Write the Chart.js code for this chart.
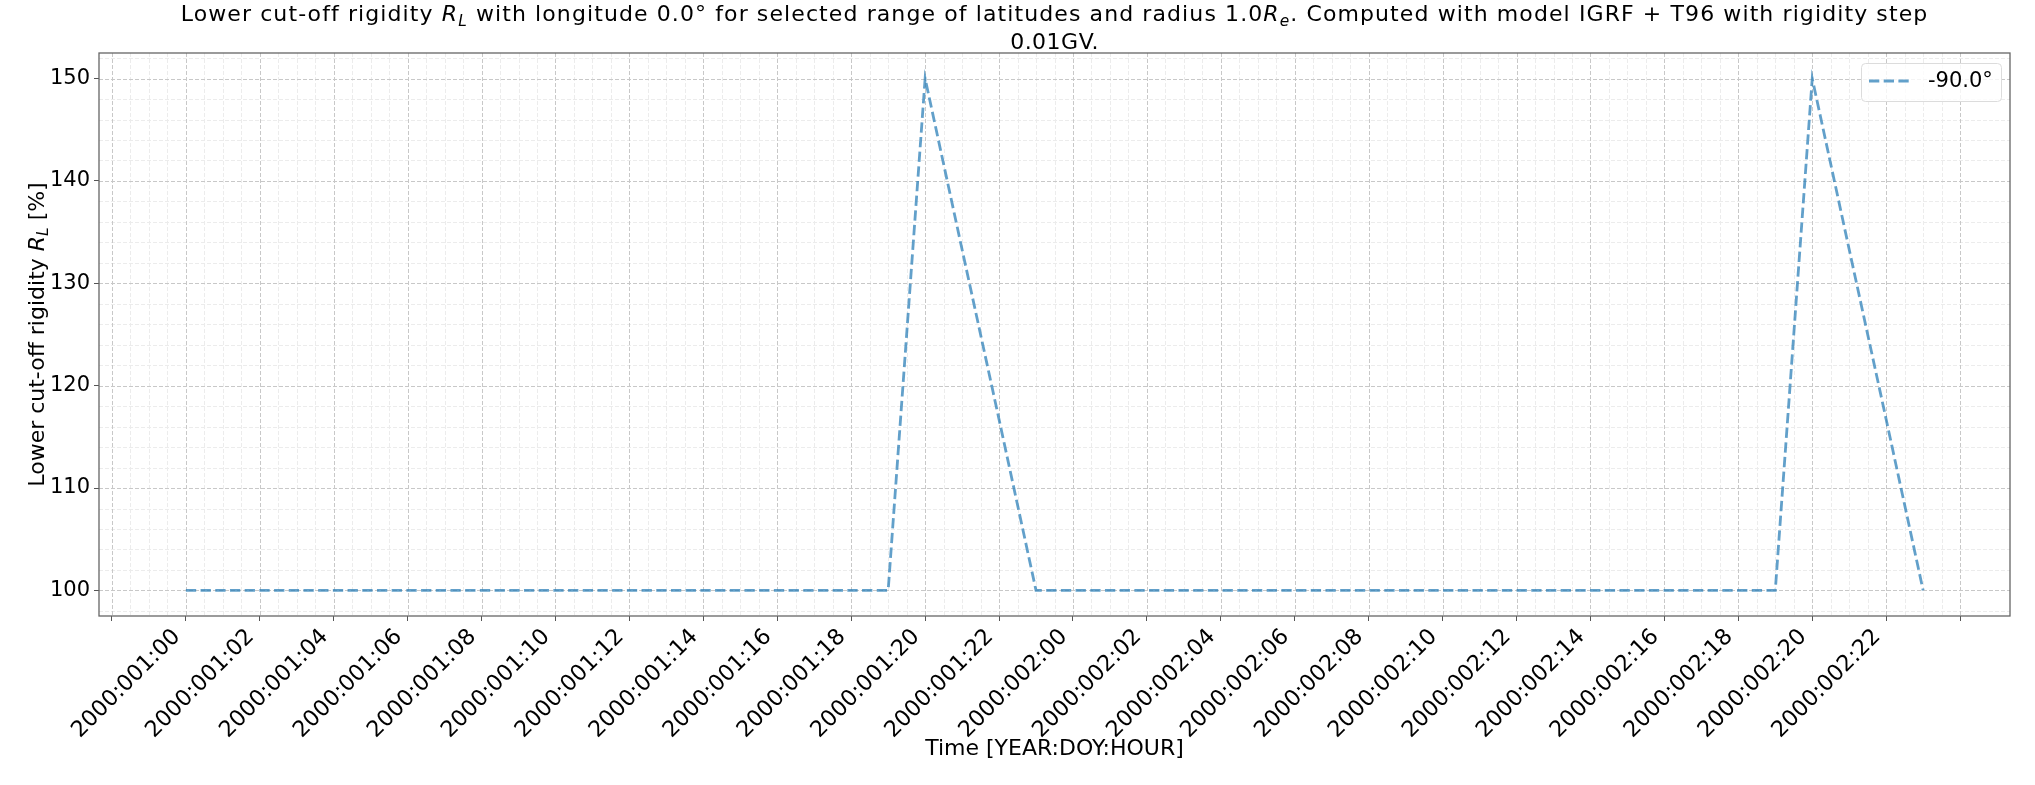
<!DOCTYPE html>
<html>
<head>
<meta charset="utf-8">
<script src="https://cdn.jsdelivr.net/npm/chart.js@4.4.1/dist/chart.umd.min.js"></script>
<style>
  html, body { margin: 0; padding: 0; background: #fff; }
</style>
</head>
<body>
<canvas id="chart" width="2035" height="785"></canvas>
<script>
// hourly time stamps (x categories)
const hours = [
  '2000:001:00', '2000:001:01', '2000:001:02', '2000:001:03', '2000:001:04', '2000:001:05',
  '2000:001:06', '2000:001:07', '2000:001:08', '2000:001:09', '2000:001:10', '2000:001:11',
  '2000:001:12', '2000:001:13', '2000:001:14', '2000:001:15', '2000:001:16', '2000:001:17',
  '2000:001:18', '2000:001:19', '2000:001:20', '2000:001:21', '2000:001:22', '2000:001:23',
  '2000:002:00', '2000:002:01', '2000:002:02', '2000:002:03', '2000:002:04', '2000:002:05',
  '2000:002:06', '2000:002:07', '2000:002:08', '2000:002:09', '2000:002:10', '2000:002:11',
  '2000:002:12', '2000:002:13', '2000:002:14', '2000:002:15', '2000:002:16', '2000:002:17',
  '2000:002:18', '2000:002:19', '2000:002:20', '2000:002:21', '2000:002:22', '2000:002:23'
];

// lower cut-off rigidity, latitude -90.0
const rigidity = [
  100, 100, 100, 100, 100, 100, 100, 100, 100, 100, 100, 100,
  100, 100, 100, 100, 100, 100, 100, 100, 150, 133.3, 116.7, 100,
  100, 100, 100, 100, 100, 100, 100, 100, 100, 100, 100, 100,
  100, 100, 100, 100, 100, 100, 100, 100, 150, 133.3, 116.7, 100
];

const seriesLabel = '-90.0°';

const xTickLabels = [
  '2000:001:00', '2000:001:02', '2000:001:04', '2000:001:06', '2000:001:08', '2000:001:10',
  '2000:001:12', '2000:001:14', '2000:001:16', '2000:001:18', '2000:001:20', '2000:001:22',
  '2000:002:00', '2000:002:02', '2000:002:04', '2000:002:06', '2000:002:08', '2000:002:10',
  '2000:002:12', '2000:002:14', '2000:002:16', '2000:002:18', '2000:002:20', '2000:002:22'
];
const yTicks = [100, 110, 120, 130, 140, 150];

const titleLine1 = [
  ['Lower cut-off rigidity ', 'n'], ['R', 'i'], ['L', 'sub'],
  [' with longitude 0.0° for selected range of latitudes and radius 1.0', 'n'], ['R', 'i'], ['e', 'sub'],
  ['. Computed with model IGRF + T96 with rigidity step', 'n']
];
const titleLine2 = [['0.01GV.', 'n']];
const yTitle = [['Lower cut-off rigidity ', 'n'], ['R', 'i'], ['L', 'sub'], [' [%]', 'n']];
const xTitle = 'Time [YEAR:DOY:HOUR]';

const FONT = '"DejaVu Sans", sans-serif';

// major x tick positions (hour index), plus one unlabeled tick each side like the original
const xMajor = xTickLabels.map(l => hours.indexOf(l));
const xTickPos = [xMajor[0] - 2].concat(xMajor, [xMajor[xMajor.length - 1] + 2]);

function segFont(kind, size) {
  if (kind === 'i') return 'italic ' + size + 'px ' + FONT;
  if (kind === 'sub') return 'italic ' + (size * 0.7) + 'px ' + FONT;
  return size + 'px ' + FONT;
}

function richWidth(ctx, segs, size) {
  let w = 0;
  segs.forEach(s => { ctx.font = segFont(s[1], size); w += ctx.measureText(s[0]).width; });
  return w;
}

function drawRich(ctx, segs, cx, baseY, size, spacing) {
  ctx.letterSpacing = (spacing || 0) + 'px';
  let x = cx - richWidth(ctx, segs, size) / 2;
  ctx.textAlign = 'left';
  ctx.textBaseline = 'alphabetic';
  segs.forEach(s => {
    ctx.font = segFont(s[1], size);
    const dy = s[1] === 'sub' ? size * 0.22 : 0;
    ctx.fillText(s[0], x, baseY + dy);
    x += ctx.measureText(s[0]).width;
  });
  ctx.letterSpacing = '0px';
}

const decor = {
  id: 'decor',
  beforeDatasetsDraw(chart) {
    const { ctx, chartArea: a, scales: { x, y } } = chart;
    ctx.save();
    ctx.beginPath();
    ctx.rect(a.left, a.top, a.right - a.left, a.bottom - a.top);
    ctx.clip();
    ctx.lineWidth = 1;
    ctx.setLineDash([4, 2]);
    // minor grid
    ctx.strokeStyle = '#ececec';
    for (let v = xTickPos[0]; v <= xTickPos[xTickPos.length - 1]; v += 0.5) {
      if (v % 2 === 0) continue;
      const px = Math.round(x.getPixelForValue(v)) + 0.5;
      ctx.beginPath(); ctx.moveTo(px, a.top); ctx.lineTo(px, a.bottom); ctx.stroke();
    }
    for (let v = 98; v <= 152; v += 2) {
      if (v % 10 === 0) continue;
      const py = Math.round(y.getPixelForValue(v)) + 0.5;
      ctx.beginPath(); ctx.moveTo(a.left, py); ctx.lineTo(a.right, py); ctx.stroke();
    }
    // major grid
    ctx.strokeStyle = '#c8c8c8';
    xTickPos.forEach(v => {
      const px = Math.round(x.getPixelForValue(v)) + 0.5;
      ctx.beginPath(); ctx.moveTo(px, a.top); ctx.lineTo(px, a.bottom); ctx.stroke();
    });
    yTicks.forEach(v => {
      const py = Math.round(y.getPixelForValue(v)) + 0.5;
      ctx.beginPath(); ctx.moveTo(a.left, py); ctx.lineTo(a.right, py); ctx.stroke();
    });
    ctx.restore();
  },
  afterDraw(chart) {
    const { ctx, chartArea: a } = chart;
    ctx.save();
    // frame
    ctx.strokeStyle = '#666';
    ctx.lineWidth = 1.3;
    ctx.setLineDash([]);
    ctx.strokeRect(a.left, a.top, a.right - a.left, a.bottom - a.top);

    // title
    ctx.fillStyle = '#000';
    const cx = (a.left + a.right) / 2;
    drawRich(ctx, titleLine1, cx, 21, 22, 1.1);
    drawRich(ctx, titleLine2, cx, 48.5, 22, 0.5);

    // y axis title
    ctx.save();
    ctx.translate(43.5, (a.top + a.bottom) / 2);
    ctx.rotate(-Math.PI / 2);
    drawRich(ctx, yTitle, 0, 0, 22, 0);
    ctx.restore();

    // legend (upper right, inside axes)
    const ds = chart.data.datasets[0];
    const bx = 1861, by = 63, bw = 140, bh = 38, r = 4;
    ctx.fillStyle = 'rgba(255,255,255,0.8)';
    ctx.strokeStyle = '#dcdcdc';
    ctx.lineWidth = 1;
    ctx.beginPath();
    ctx.roundRect(bx + 0.5, by + 0.5, bw, bh, r);
    ctx.fill();
    ctx.stroke();
    ctx.strokeStyle = ds.borderColor;
    ctx.lineWidth = ds.borderWidth;
    ctx.setLineDash(ds.borderDash);
    ctx.beginPath();
    ctx.moveTo(1869, 81);
    ctx.lineTo(1910, 81);
    ctx.stroke();
    ctx.setLineDash([]);
    ctx.fillStyle = '#000';
    ctx.font = '21px ' + FONT;
    ctx.textAlign = 'left';
    ctx.textBaseline = 'middle';
    ctx.fillText(ds.label, 1928, 82);
    ctx.restore();
  }
};

const ctx = document.getElementById('chart');
new Chart(ctx, {
  type: 'line',
  data: {
    datasets: [{
      label: seriesLabel,
      data: rigidity.map((v, i) => ({ x: i, y: v })),
      borderColor: 'rgba(31, 119, 180, 0.7)',
      borderWidth: 2.8,
      borderDash: [10.3, 4.4],
      pointRadius: 0,
      fill: false,
      tension: 0
    }]
  },
  options: {
    responsive: false,
    animation: false,
    devicePixelRatio: 1,
    layout: { padding: { top: 53, right: 25, left: 0, bottom: 0 } },
    plugins: {
      legend: { display: false },
      title: { display: false },
      tooltip: { enabled: false }
    },
    scales: {
      x: {
        type: 'linear',
        min: -2.35,
        max: 49.35,
        afterBuildTicks: s => { s.ticks = xTickPos.map(v => ({ value: v })); },
        afterFit: s => { s.height = 169; },
        ticks: {
          autoSkip: false,
          minRotation: 45,
          maxRotation: 45,
          color: '#000',
          padding: 3,
          labelOffset: -9,
          font: { family: FONT, size: 22.3 },
          callback: v => (v >= 0 && v < hours.length ? hours[v] : '')
        },
        grid: { drawOnChartArea: false, tickLength: 5, color: '#555' },
        border: { display: false },
        title: {
          display: true,
          text: xTitle,
          color: '#000',
          font: { family: FONT, size: 22 },
          padding: { top: 0, bottom: 23 }
        }
      },
      y: {
        min: 97.5,
        max: 152.5,
        afterBuildTicks: s => { s.ticks = yTicks.map(v => ({ value: v })); },
        afterFit: s => { s.width = 99; },
        ticks: {
          color: '#000',
          padding: 4,
          font: { family: FONT, size: 21 }
        },
        grid: { drawOnChartArea: false, tickLength: 5, color: '#555' },
        border: { display: false }
      }
    }
  },
  plugins: [decor]
});
</script>
</body>
</html>
